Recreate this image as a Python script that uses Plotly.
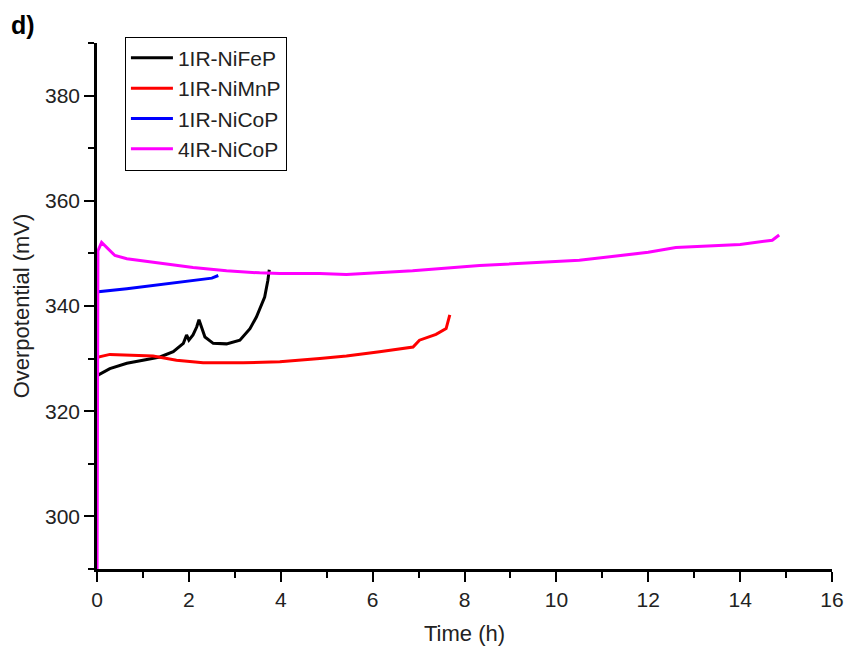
import plotly.graph_objects as go

# 1IR-NiFeP (black)
t_fep = [0.0, 0.03, 0.28, 0.65, 1.0, 1.37, 1.66, 1.88, 1.95, 2.0, 2.09, 2.17, 2.22, 2.28, 2.35, 2.53, 2.82, 3.11, 3.33, 3.47, 3.54, 3.65, 3.72, 3.75]
v_fep = [326.5, 326.9, 328.1, 329.1, 329.7, 330.3, 331.3, 332.9, 334.5, 333.5, 334.5, 336.0, 337.4, 336.0, 334.1, 332.9, 332.8, 333.5, 335.7, 337.9, 339.5, 341.7, 344.9, 346.9]

# 1IR-NiMnP (red)
t_mnp = [0.0, 0.03, 0.28, 0.65, 1.22, 1.73, 2.31, 3.18, 3.98, 4.85, 5.43, 6.15, 6.88, 7.02, 7.38, 7.6, 7.66, 7.68]
v_mnp = [330.0, 330.3, 330.8, 330.7, 330.5, 329.7, 329.2, 329.2, 329.4, 330.0, 330.5, 331.3, 332.2, 333.5, 334.6, 335.7, 337.9, 338.3]

# 1IR-NiCoP (blue)
t_cop1 = [0.0, 0.03, 0.65, 1.37, 2.1, 2.5, 2.64]
v_cop1 = [342.5, 342.7, 343.3, 344.1, 344.8, 345.3, 345.8]

# 4IR-NiCoP (magenta)
t_cop4 = [0.0, 0.02, 0.1, 0.39, 0.65, 1.37, 2.09, 2.82, 3.54, 3.98, 4.85, 5.43, 6.87, 8.33, 10.5, 12.0, 12.6, 14.0, 14.7, 14.85]
v_cop4 = [285.0, 350.5, 352.1, 349.6, 349.0, 348.1, 347.3, 346.7, 346.3, 346.2, 346.2, 346.0, 346.7, 347.7, 348.7, 350.2, 351.1, 351.7, 352.5, 353.5]

x_ticks = [0, 2, 4, 6, 8, 10, 12, 14, 16]
y_ticks = [300, 320, 340, 360, 380]

FONT = "Arial, Liberation Sans, sans-serif"

fig = go.Figure()
series = [
    ("1IR-NiFeP", t_fep, v_fep, "#000000"),
    ("1IR-NiMnP", t_mnp, v_mnp, "#ff0000"),
    ("1IR-NiCoP", t_cop1, v_cop1, "#0000ff"),
    ("4IR-NiCoP", t_cop4, v_cop4, "#ff00ff"),
]
for name, t, v, c in series:
    fig.add_trace(go.Scatter(x=t, y=v, mode="lines", name=name,
                             line=dict(color=c, width=3)))

axis_common = dict(
    showline=True, linecolor="black", linewidth=2.5,
    ticks="outside", ticklen=10, tickwidth=2, tickcolor="black",
    showgrid=False, zeroline=False, mirror=False, automargin=False,
    tickfont=dict(family=FONT, size=21, color="#222"),
    layer="below traces",
)

fig.update_xaxes(range=[0, 16], tickvals=x_ticks,
                 minor=dict(ticks="outside", ticklen=6, tickwidth=2, tickcolor="black", dtick=1, tick0=0, showgrid=False),
                 title=dict(text="Time (h)", font=dict(family=FONT, size=22, color="#222"), standoff=18),
                 **axis_common)
fig.update_yaxes(range=[290, 390], tickvals=y_ticks,
                 minor=dict(ticks="outside", ticklen=6, tickwidth=2, tickcolor="black", dtick=10, tick0=290, showgrid=False),
                 title=dict(text="Overpotential (mV)", font=dict(family=FONT, size=22, color="#222"), standoff=10),
                 **axis_common)

fig.update_layout(
    width=846, height=646,
    margin=dict(l=97, r=14, t=43, b=77),
    paper_bgcolor="white", plot_bgcolor="white",
    legend=dict(x=0.038, y=1.012, xanchor="left", yanchor="top",
                bordercolor="black", borderwidth=1, bgcolor="white",
                font=dict(family=FONT, size=21, color="#222"),
                tracegroupgap=0, itemwidth=42),
    annotations=[dict(text="<b>d)</b>", x=-0.12, y=1.035, xref="paper", yref="paper",
                      xanchor="left", yanchor="middle", showarrow=False,
                      font=dict(family=FONT, size=25, color="black"))],
)

fig.write_html("out.html", config={"displayModeBar": False},
               post_script="document.body.style.margin='0';")
